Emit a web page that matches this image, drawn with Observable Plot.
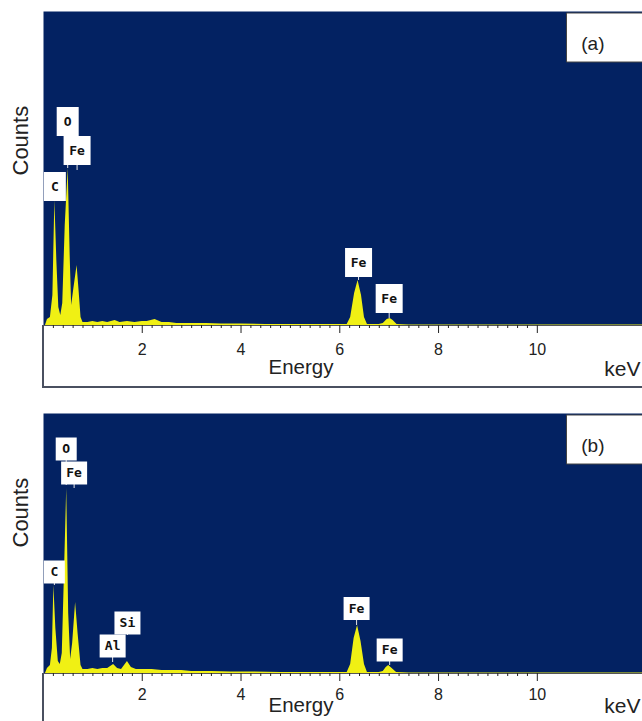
<!DOCTYPE html>
<html><head><meta charset="utf-8">
<script src="https://cdn.jsdelivr.net/npm/d3@7"></script>
<script src="https://cdn.jsdelivr.net/npm/@observablehq/plot@0.6"></script>
<style>
body{margin:0;background:#fff;}
#wrap{position:relative;width:642px;height:721px;overflow:hidden;background:#fff;}
.panel{position:absolute;left:0;width:642px;}
.axisbox{position:absolute;border-left:2px solid #4a5060;border-bottom:2px solid #4a5060;box-sizing:border-box;pointer-events:none;}
</style></head><body><div id="wrap">
<div class="panel" id="pa" style="top:0"></div>
<div class="panel" id="pb" style="top:403px"></div>
<div class="axisbox" style="left:42px;top:325px;width:600px;height:63px"></div>
<div class="axisbox" style="left:42px;top:673px;width:600px;height:60px;border-bottom:none"></div>
</div>
<script>
// ---- Data: spectrum (a) ----
const energyA = [0.04,0.08,0.14,0.19,0.23,0.27,0.31,0.35,0.39,0.44,0.50,0.54,0.57,0.61,0.68,0.72,0.76,0.80,0.90,1.00,1.10,1.20,1.30,1.45,1.55,1.70,1.85,2.00,2.10,2.26,2.40,2.55,2.70,3.00,3.30,3.60,4.00,4.50,5.00,5.50,5.90,6.15,6.22,6.30,6.37,6.44,6.50,6.56,6.80,6.88,6.96,7.02,7.08,7.16,7.40,8.00,10.00,12.13];
const countsA = [0,6,8,30,125,65,18,10,22,100,157,70,20,35,60,35,8,3,3,4,3,4,3,5,3,4,3,4,4,6,3,3,2,2,2,1.5,1.5,1,1,1,1,1,8,32,45,30,8,1,1,2,6,7,5,1,0.5,0.5,0.5,0.5];
// ---- Data: spectrum (b) ----
const energyB = [0.04,0.08,0.14,0.18,0.21,0.25,0.30,0.34,0.38,0.43,0.47,0.51,0.55,0.59,0.65,0.70,0.76,0.80,0.90,1.00,1.10,1.20,1.30,1.36,1.42,1.50,1.58,1.64,1.70,1.78,1.88,2.00,2.20,2.40,2.60,2.80,3.00,3.40,3.80,4.20,4.80,5.40,5.90,6.15,6.22,6.29,6.36,6.43,6.50,6.56,6.80,6.88,6.94,6.99,7.06,7.15,7.40,8.00,10.00,12.13];
const countsB = [0,5,8,25,88,45,12,9,20,110,185,60,14,30,71,40,8,4,4,5,4,5,5,7,9,5,4,8,12,6,4,4,4,3,3,3,2,2,1.5,1.5,1,1,1,1,9,35,48,32,9,1,1,2,6,8,5,1,0.5,0.5,0.5,0.5];
// ---- Peak labels ----
const labelElA = ["C","O","Fe","Fe","Fe"];
const labelXA = [0.23,0.49,0.68,6.38,7.00];
const labelYA = [139,204,175,63,27];
const labelPeakA = [125,157,155,45,7];
const labelElB = ["O","Fe","C","Al","Si","Fe","Fe"];
const labelXB = [0.46,0.62,0.22,1.40,1.70,6.34,7.01];
const labelYB = [224.5,200.5,101.5,27.5,50.5,65,23.5];
const labelPeakB = [188,185,88,11,38,48,8];
// ---- Axis ticks ----
const majorTicks = [2,4,6,8,10];
const minorTicks = d3.range(1, 51).map(i => i / 5).filter(v => !majorTicks.includes(v));

const NAVY = "#032262", YELLOW = "#f0f014";
const FONT = "'Liberation Sans', Arial, sans-serif";

function boxSymbol(w, h) {
  return {draw(ctx) { ctx.moveTo(-w/2,-h/2); ctx.lineTo(w/2,-h/2); ctx.lineTo(w/2,h/2); ctx.lineTo(-w/2,h/2); ctx.closePath(); }};
}

function panel(cfg) {
  const spec = cfg.energy.map((e, i) => ({e, c: cfg.counts[i]}));
  const labels = cfg.el.map((el, i) => ({el, x: cfg.lx[i], y: cfg.ly[i], p: cfg.lp[i]}));
  return Plot.plot({
    width: 642, height: cfg.height,
    marginLeft: 43, marginRight: 0, marginTop: cfg.marginTop, marginBottom: cfg.marginBottom,
    x: {domain: [0, 12.13], label: null},
    y: {domain: [0, cfg.yMax], axis: null},
    style: {background: "transparent", fontFamily: FONT, color: "#222", overflow: "visible"},
    marks: [
      Plot.frame({fill: NAVY, stroke: null}),
      Plot.areaY(spec, {x: "e", y: "c", fill: YELLOW, curve: "linear"}),
      Plot.ruleX(labels, {x: "x", y1: "p", y2: "y", stroke: "#e6e6e6", strokeWidth: 1}),
      Plot.dot(labels.filter(d => d.el.length === 1), {x: "x", y: "y", symbol: boxSymbol(cfg.bw1, cfg.bh), fill: "white", stroke: null}),
      Plot.dot(labels.filter(d => d.el.length > 1), {x: "x", y: "y", symbol: boxSymbol(cfg.bw2, cfg.bh), fill: "white", stroke: null}),
      Plot.text(labels, {x: "x", y: "y", text: "el", fontFamily: "'DejaVu Sans Mono', monospace", fontWeight: "bold", fontSize: 13, fill: "#111"}),
      Plot.ruleY([0], {stroke: "#555", strokeWidth: 1}),
      Plot.axisX({ticks: minorTicks, tickSize: 3, tickFormat: () => "", label: null, stroke: "#222"}),
      Plot.axisX({ticks: majorTicks, tickSize: 8, tickPadding: cfg.tickPadding, fontSize: 16, label: null, stroke: "#222", fill: "#222"}),
      Plot.text(["Energy"], {text: d => d, frameAnchor: "bottom", dx: -42, dy: cfg.energyDy, fontSize: 20.5, fill: "#222"}),
      Plot.text(["keV"], {text: d => d, frameAnchor: "bottom-right", textAnchor: "end", dx: -2, dy: cfg.kevDy, fontSize: 21, fill: "#222"}),
      Plot.text(["Counts"], {text: d => d, frameAnchor: "left", rotate: -90, dx: -23, dy: cfg.countsDy, fontSize: 22, fill: "#222"}),
      Plot.dot([cfg.tag], {frameAnchor: "top-right", dx: -38, dy: 26, symbol: boxSymbol(76, 49), fill: "white", stroke: "#444", strokeWidth: 1}),
      Plot.text([cfg.tag], {text: d => d, frameAnchor: "top-right", dx: -38, dy: 25, fontSize: 19, fill: "#222"})
    ]
  });
}

document.getElementById("pa").append(panel({
  energy: energyA, counts: countsA, el: labelElA, lx: labelXA, ly: labelYA, lp: labelPeakA,
  height: 388, marginTop: 11, marginBottom: 63, yMax: 314, tickPadding: 10,
  energyDy: 48.5, kevDy: 50, countsDy: 7, bw1: 22, bw2: 27, bh: 29, tag: "(a)"
}));
document.getElementById("pb").append(panel({
  energy: energyB, counts: countsB, el: labelElB, lx: labelXB, ly: labelYB, lp: labelPeakB,
  height: 318, marginTop: 10, marginBottom: 48, yMax: 260, tickPadding: 7,
  energyDy: 38, kevDy: 39, countsDy: 4, bw1: 21, bw2: 26, bh: 23, tag: "(b)"
}));
</script>
</body></html>
